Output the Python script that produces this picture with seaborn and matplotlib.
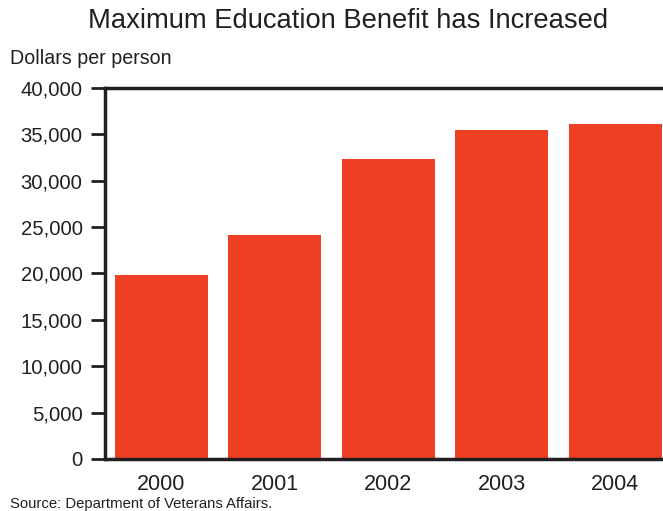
import matplotlib
matplotlib.use("Agg")
import matplotlib.pyplot as plt
import seaborn as sns
import pandas as pd
from matplotlib.ticker import FuncFormatter

years = ["2000", "2001", "2002", "2003", "2004"]
benefit = [19850, 24150, 32350, 35500, 36150]

df = pd.DataFrame({"year": years, "benefit": benefit})

sns.set_style("white")
plt.rcParams["font.family"] = ["Liberation Sans", "DejaVu Sans"]

fig = plt.figure(figsize=(6.63, 5.11), dpi=100)
ax = fig.add_axes([0.158, 0.1018, 0.842, 0.726])

sns.barplot(data=df, x="year", y="benefit", color="#EE3E24", saturation=1,
            width=0.82, linewidth=0, ax=ax)

ax.set_xlim(-0.5, 4.42)
ax.set_ylim(0, 40000)
ax.set_yticks(range(0, 40001, 5000))
ax.yaxis.set_major_formatter(FuncFormatter(lambda v, p: f"{int(v):,}"))
ax.set_xlabel("")
ax.set_ylabel("")

for side in ["left", "bottom", "top"]:
    ax.spines[side].set_visible(True)
    ax.spines[side].set_color("#231F20")
    ax.spines[side].set_linewidth(2.5)
ax.spines["right"].set_visible(False)

ax.tick_params(axis="y", which="major", left=True, length=10, width=2,
               color="#231F20", pad=6, labelsize=14.6, labelcolor="#231F20")
ax.tick_params(axis="x", which="major", bottom=False, length=0, pad=10.5,
               labelsize=15.5, labelcolor="#231F20")

fig.text(0.525, 0.958, "Maximum Education Benefit has Increased",
         ha="center", va="center", fontsize=19.7, color="#231F20")
fig.text(0.015, 0.886, "Dollars per person", ha="left", va="center",
         fontsize=14.1, color="#231F20")
fig.text(0.015, 0.014, "Source: Department of Veterans Affairs.", ha="left",
         va="center", fontsize=10.7, color="#231F20")

fig.savefig("out.png", dpi=100)
